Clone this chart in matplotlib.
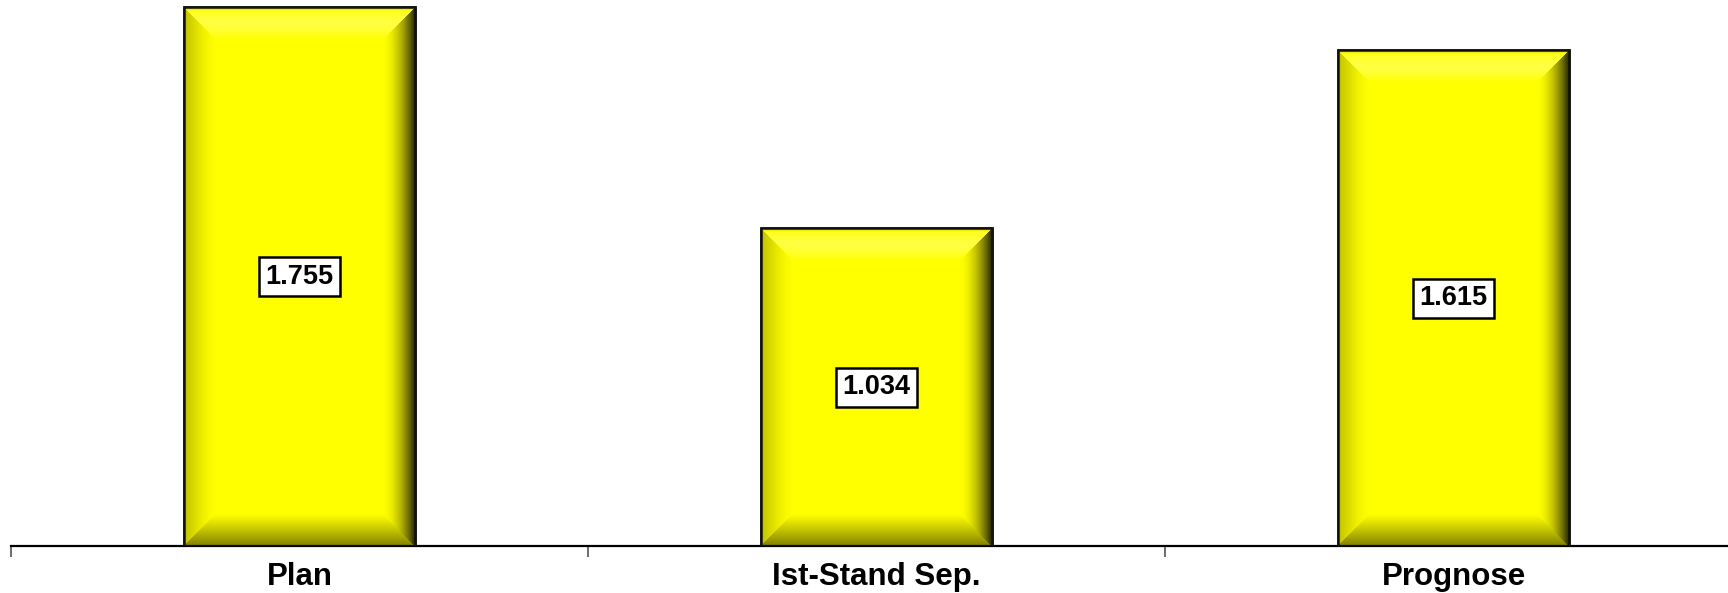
import numpy as np
import matplotlib
matplotlib.use("Agg")
import matplotlib.pyplot as plt

categories = ["Plan", "Ist-Stand Sep.", "Prognose"]
values = [1755, 1034, 1615]
value_labels = ["1.755", "1.034", "1.615"]

W, H, DPI = 1728, 593, 100
fig = plt.figure(figsize=(W / DPI, H / DPI), dpi=DPI)
ax = fig.add_axes([11 / W, 47 / H, 3 * 577 / W, 546 / H])
ax.set_xlim(-0.5, 2.5)
ax.set_ylim(0, 1778)

x = np.arange(len(categories))
bars = ax.bar(x, values, width=0.40, color="#FFFF00", edgecolor="black",
              linewidth=1.8, zorder=2)

fig.canvas.draw()
bevel = 32.0
for b in bars:
    x0, y0 = b.get_x(), b.get_y()
    bw, bh = b.get_width(), b.get_height()
    (px0, py0), (px1, py1) = ax.transData.transform([(x0, y0), (x0 + bw, y0 + bh)])
    w = int(round(px1 - px0)); h = int(round(py1 - py0))
    yy, xx = np.mgrid[0:h, 0:w].astype(float)
    dl = xx + 0.5; dr = w - xx - 0.5; dt = yy + 0.5; db = h - yy - 0.5
    d = np.stack([dt, dr, db, dl])
    idx = np.argmin(d, axis=0)
    dm = np.min(d, axis=0)
    t = np.clip(1 - dm / bevel, 0, 1)
    img = np.zeros((h, w, 3))
    img[..., 0] = 1.0; img[..., 1] = 1.0; img[..., 2] = 0.0
    bright = np.ones((h, w))
    whiten = np.zeros((h, w))
    # top: lighter
    m = idx == 0
    whiten[m] = 0.25 * np.sin(np.pi * t[m]) * (t[m] > 0)
    bright[m] = 1 - 0.2 * np.clip((t[m] - 0.88) / 0.12, 0, 1)
    # right: dark
    m = idx == 1
    bright[m] = 1 - 0.85 * t[m] ** 1.8
    # bottom: olive
    m = idx == 2
    bright[m] = 1 - 0.5 * t[m] ** 1.1
    # left: slightly dark
    m = idx == 3
    bright[m] = 1 - 0.25 * t[m] ** 1.5
    for c in range(3):
        img[..., c] = img[..., c] * bright
    img[..., 2] = np.clip(img[..., 2] + whiten, 0, 1)
    im = ax.imshow(img, extent=(x0, x0 + bw, y0, y0 + bh), aspect="auto",
                   origin="upper", zorder=2.5, interpolation="bilinear")
    im.set_clip_path(b)
    outline = plt.Rectangle((x0, y0), bw, bh, fill=False, edgecolor="#111111",
                            linewidth=1.8, zorder=3)
    ax.add_patch(outline)

for xi, v, lab in zip(x, values, value_labels):
    ax.text(xi, v / 2, lab, ha="center", va="center", fontsize=19.5,
            fontweight="bold", family="Liberation Sans", zorder=4,
            bbox=dict(boxstyle="square,pad=0.24", facecolor="white",
                      edgecolor="black", linewidth=1.8))

ax.set_xlim(-0.5, 2.5)
ax.set_ylim(0, 1778)
for s in ["top", "left", "right"]:
    ax.spines[s].set_visible(False)
ax.spines["bottom"].set_linewidth(1.6)
ax.set_yticks([])
ax.set_xticks(x)
ax.set_xticklabels(categories, fontsize=22.5, fontweight="bold", family="Liberation Sans")
ax.tick_params(axis="x", which="major", length=0, pad=11.5)
ax.set_xticks([-0.5, 0.5, 1.5, 2.5], minor=True)
ax.tick_params(axis="x", which="minor", length=8, width=1.3, color="#606060")

fig.savefig("out.png", dpi=DPI)
